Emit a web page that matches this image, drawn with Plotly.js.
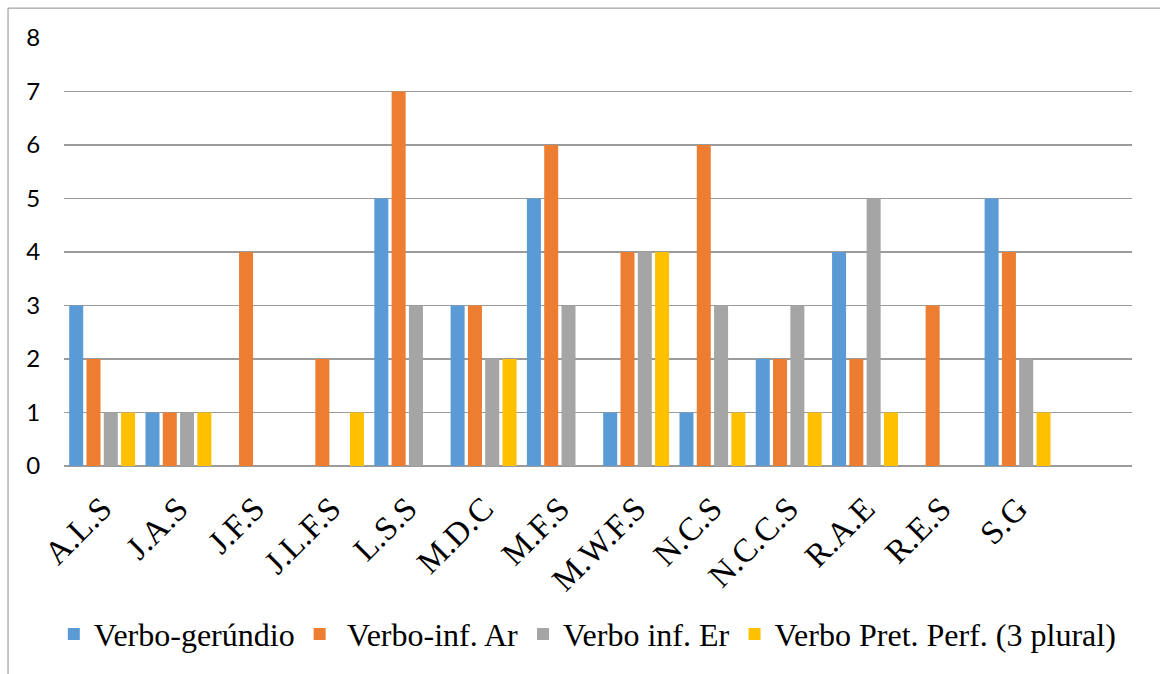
<!DOCTYPE html>
<html>
<head>
<meta charset="utf-8">
<script src="https://cdn.plot.ly/plotly-3.0.1.min.js"></script>
<style>
  html, body { margin: 0; padding: 0; background: #ffffff; }
  #chart { width: 1160px; height: 674px; }
</style>
</head>
<body>
<div id="chart"></div>
<script>
// Participants (initials)
const categories = ["A.L.S", "J.A.S", "J.F.S", "J.L.F.S", "L.S.S", "M.D.C", "M.F.S",
                    "M.W.F.S", "N.C.S", "N.C.C.S", "R.A.E", "R.E.S", "S.G"];

// Occurrences per verb form
const gerundio   = [3, 1, 0, 0, 5, 3, 5, 1, 1, 2, 4, 0, 5];
const infAr      = [2, 1, 4, 2, 7, 3, 6, 4, 6, 2, 2, 3, 4];
const infEr      = [1, 1, 0, 0, 3, 2, 3, 4, 3, 3, 5, 0, 2];
const pretPerf3p = [1, 1, 0, 1, 0, 2, 0, 4, 1, 1, 1, 0, 1];

const seriesNames  = ["Verbo-gerúndio", " Verbo-inf. Ar", "Verbo inf. Er", "Verbo Pret. Perf. (3 plural)"];
const seriesValues = [gerundio, infAr, infEr, pretPerf3p];
const seriesColors = ["#5B9BD5", "#ED7D31", "#A5A5A5", "#FFC000"];

const yTicks = [0, 1, 2, 3, 4, 5, 6, 7, 8];

const traces = seriesValues.map((vals, i) => ({
  type: "bar",
  name: seriesNames[i],
  x: categories,
  y: vals,
  marker: { color: seriesColors[i] },
  hoverinfo: "x+y+name"
}));

const gridColor = "#9b9b9b";
const serif = "'Liberation Serif', 'Times New Roman', serif";

const layout = {
  width: 1160,
  height: 674,
  margin: { l: 64, r: 28, t: 38, b: 206 },
  paper_bgcolor: "#ffffff",
  plot_bgcolor: "#ffffff",
  barmode: "group",
  bargap: 0.093,
  bargroupgap: 0.19,
  showlegend: true,
  legend: {
    orientation: "h",
    x: 0.49, xanchor: "center",
    y: -0.393, yanchor: "middle",
    font: { family: serif, size: 32, color: "#000000" },
    itemwidth: 30,
    bgcolor: "rgba(0,0,0,0)"
  },
  xaxis: {
    type: "category",
    range: [-0.5, categories.length + 0.5],
    tickangle: -45,
    tickfont: { family: serif, size: 33, color: "#000000" },
    showgrid: false,
    showline: false,
    zeroline: false,
    ticks: "outside",
    ticklen: 9,
    tickcolor: "rgba(0,0,0,0)"
  },
  yaxis: {
    range: [0, 8],
    tickvals: yTicks,
    ticktext: yTicks.map(String),
    tickfont: { family: "Lato, 'Open Sans', sans-serif", size: 24, color: "#000000" },
    showgrid: true,
    gridcolor: gridColor,
    gridwidth: 1.6,
    zeroline: true,
    zerolinecolor: gridColor,
    zerolinewidth: 1.6,
    showline: false,
    ticks: "outside",
    ticklen: 18,
    tickcolor: "rgba(0,0,0,0)"
  },
  shapes: [{
    type: "rect",
    xref: "paper", yref: "paper",
    x0: -0.0524, x1: 1.06,
    y0: -0.52, y1: 1.0698,
    line: { color: "#8c8c8c", width: 1 },
    fillcolor: "rgba(0,0,0,0)",
    layer: "below"
  }]
};

Plotly.newPlot("chart", traces, layout, { displayModeBar: false, staticPlot: true });
</script>
</body>
</html>
